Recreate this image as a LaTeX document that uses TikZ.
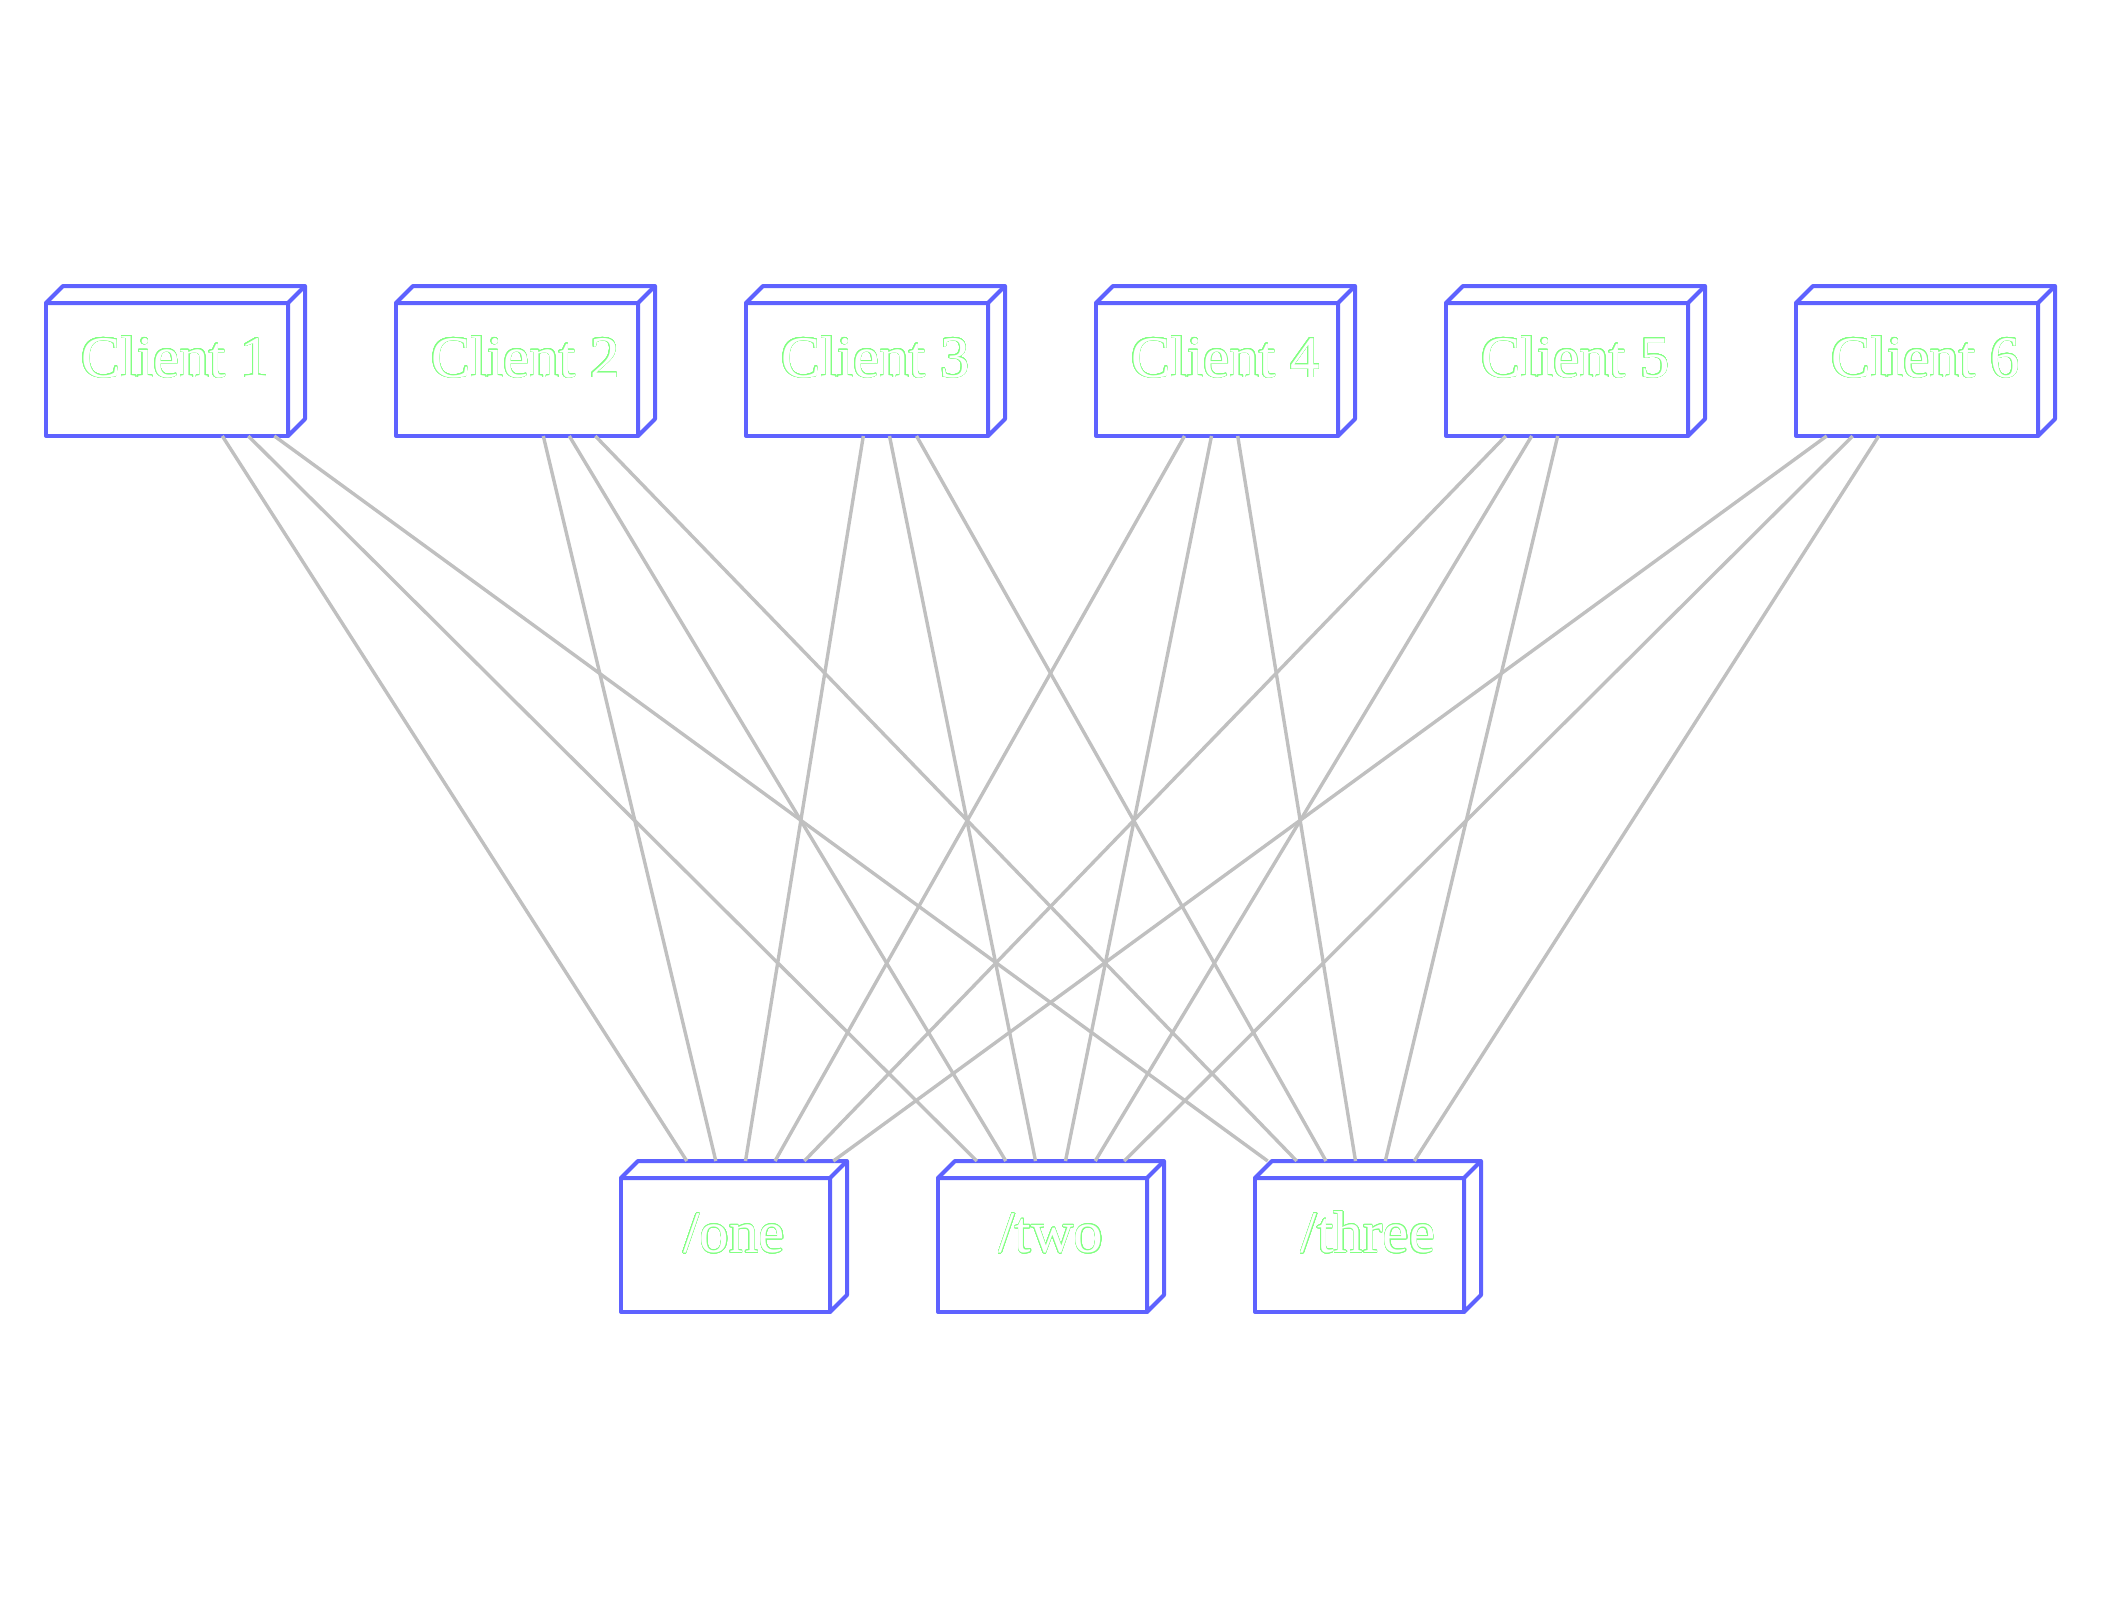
\documentclass[tikz,border=0pt]{standalone}
\usepackage{fontspec}
\setmainfont{Liberation Serif}
\usepackage{contour}
\contourlength{0.28pt}
\contournumber{32}
\usetikzlibrary{calc}
\definecolor{boxblue}{RGB}{94,98,255}
\definecolor{edgegray}{RGB}{192,192,192}
\definecolor{txtgreen}{RGB}{130,255,130}
\newcommand{\outlinetext}[1]{\contour{txtgreen}{\textcolor{white}{#1}}}
\begin{document}
\begin{tikzpicture}[x=0.5pt,y=-0.5pt,
  front/.style={draw=boxblue, line width=2pt, fill=white, rectangle, inner sep=0pt, outer sep=0pt, anchor=north west, line join=round},
  clientbox/.style={front, minimum width=121pt, minimum height=66.5pt},
  serverbox/.style={front, minimum width=104.5pt, minimum height=67pt},
  face/.style={draw=boxblue, line width=2pt, fill=white, line join=round},
  lbl/.style={anchor=base, inner sep=0pt, font=\fontsize{29.5}{36}\selectfont},
  edgeline/.style={draw=edgegray, line width=1.7pt}
]
\useasboundingbox (0,0) rectangle (2102,1600);

% client boxes
\foreach \i in {1,...,6} {
  \node[clientbox] (c\i) at ({46+350*(\i-1)},303) {};
  \draw[face] (c\i.north west) -- ++(17,-17) -- ++(242,0) -- ++(0,133) -- (c\i.south east) -- (c\i.north east) -- cycle;
  \draw[face] (c\i.north east) -- ++(17,-17);
  \node[lbl] (c\i t) at ($(c\i.center)+(8.5,7.5)$) {\outlinetext{Client \i}};
}

% server boxes
\foreach \j/\x/\name in {1/621/one, 2/938/two, 3/1255/three} {
  \node[serverbox] (s\j) at (\x,1178) {};
  \draw[face] (s\j.north west) -- ++(17,-17) -- ++(209,0) -- ++(0,134) -- (s\j.south east) -- (s\j.north east) -- cycle;
  \draw[face] (s\j.north east) -- ++(17,-17);
  \node[lbl] (s\j t) at ($(s\j.center)+(8.5,7.5)$) {\outlinetext{/\name}};
}

% client ports (bottom edge)
\foreach \i/\a/\b/\c in {1/176.3/202.3/228.3, 2/147.3/173.3/199.3, 3/117.3/143.5/170.5,
                         4/88.5/115.5/141.7, 5/59.7/85.7/111.7, 6/30.7/56.7/82.7} {
  \coordinate (c\i p1) at ($(c\i.south west)+(\a,0)$);
  \coordinate (c\i p2) at ($(c\i.south west)+(\b,0)$);
  \coordinate (c\i p3) at ($(c\i.south west)+(\c,0)$);
}

% server ports (back top edge)
\foreach \j/\a/\b/\c/\d/\e/\f in {1/65.8/94.8/124.5/154/183.3/212.3,
                                  2/38.8/67.8/97.5/127.5/157.2/186.2,
                                  3/12.7/41.7/71/100.5/130.3/159.3} {
  \coordinate (s\j p1) at ($(s\j.north west)+(\a,-17)$);
  \coordinate (s\j p2) at ($(s\j.north west)+(\b,-17)$);
  \coordinate (s\j p3) at ($(s\j.north west)+(\c,-17)$);
  \coordinate (s\j p4) at ($(s\j.north west)+(\d,-17)$);
  \coordinate (s\j p5) at ($(s\j.north west)+(\e,-17)$);
  \coordinate (s\j p6) at ($(s\j.north west)+(\f,-17)$);
}

% connectors
\foreach \i in {1,...,6} {
  \foreach \j in {1,2,3} {
    \draw[edgeline] (c\i p\j) -- (s\j p\i);
  }
}
\end{tikzpicture}
\end{document}
